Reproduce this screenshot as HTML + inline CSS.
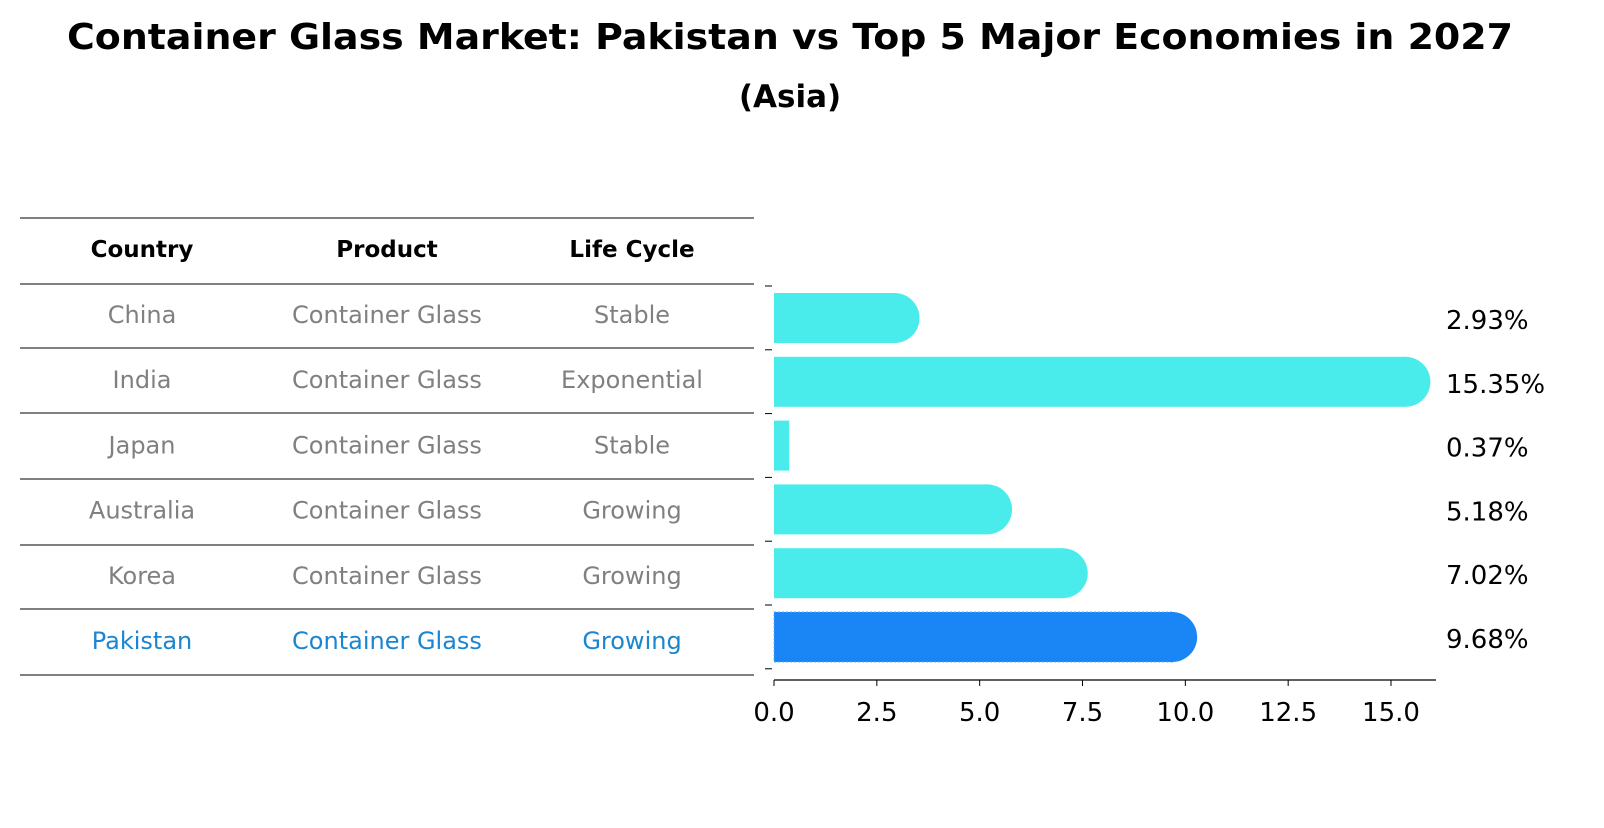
<!DOCTYPE html>
<html><head><meta charset="utf-8"><style>
body{margin:0;background:#fff;font-family:"Liberation Sans","DejaVu Sans",sans-serif}
</style></head><body>
<svg id="c" width="1604" height="823" xmlns="http://www.w3.org/2000/svg" font-family="DejaVu Sans, Liberation Sans, sans-serif">
<text x="790" y="49" text-anchor="middle" font-size="36" font-weight="bold" textLength="1446" lengthAdjust="spacingAndGlyphs">Container Glass Market: Pakistan vs Top 5 Major Economies in 2027</text>
<text x="790" y="107" text-anchor="middle" font-size="31" font-weight="bold">(Asia)</text>
<g id="table"></g>
<g id="bars"></g>
</svg>
<script>
const countries=["China","India","Japan","Australia","Korea","Pakistan"];
const products=["Container Glass","Container Glass","Container Glass","Container Glass","Container Glass","Container Glass"];
const lifeCycles=["Stable","Exponential","Stable","Growing","Growing","Growing"];
const values=[2.93,15.35,0.37,5.18,7.02,9.68];
const xTicks=[0,2.5,5,7.5,10,12.5,15];
const NS="http://www.w3.org/2000/svg";
function mk(t,a,p){const e=document.createElementNS(NS,t);for(const k in a)e.setAttribute(k,a[k]);p.appendChild(e);return e;}
const tb=document.getElementById('table');
const lineYs=[218,284,348,413,479,545,609,675];
lineYs.forEach(y=>{const l=mk('line',{x1:20,x2:754,y1:y,y2:y,stroke:'#000','stroke-width':1},tb);

});
const cols=[142,387,632];
["Country","Product","Life Cycle"].forEach((h,i)=>{const t=mk('text',{x:cols[i],y:257,'text-anchor':'middle','font-size':23,'font-weight':'bold'},tb);t.textContent=h;

});
countries.forEach((c,r)=>{const y=323+r*65.2;const col=c==="Pakistan"?'#1a85d0':'#808080';
[c,products[r],lifeCycles[r]].forEach((v,i)=>{const t=mk('text',{x:cols[i],y:y,'text-anchor':'middle','font-size':24,fill:col},tb);t.textContent=v;

});});
const g=document.getElementById('bars');
const x0=774,pxPer=(1391-774)/15;
const X=v=>x0+v*pxPer;
const Y=i=>318+i*63.8;
const H=50;
values.forEach((v,i)=>{const yc=Y(i);const isP=countries[i]==="Pakistan";const col=isP?'#1a85f5':'#4aeceb';
const r=mk('rect',{x:x0,y:yc-H/2,width:X(v)-x0,height:H,fill:col},g);
if(isP){r.setAttribute('stroke','#5aaaf8');r.setAttribute('stroke-dasharray','2 2');r.setAttribute('stroke-width','1');}


if(v>1){const cc=mk('circle',{cx:X(v),cy:yc,r:H/2,fill:col},g);

}
const t=mk('text',{x:1446,y:yc+11,'font-size':26},g);t.textContent=v.toFixed(2)+'%';


});
for(let i=0;i<=values.length;i++){const y=Y(i)-32;const tk=mk('line',{x1:765,x2:772,y1:y,y2:y,stroke:'#000','stroke-width':1},g);

}
const ax=mk('line',{x1:774,x2:1436,y1:680,y2:680,stroke:'#000','stroke-width':1.2},g);


xTicks.forEach(v=>{const l=mk('line',{x1:X(v),x2:X(v),y1:680,y2:686,stroke:'#000'},g);


const t=mk('text',{x:X(v),y:721,'text-anchor':'middle','font-size':26},g);t.textContent=v.toFixed(1);

});
</script>
</body></html>
